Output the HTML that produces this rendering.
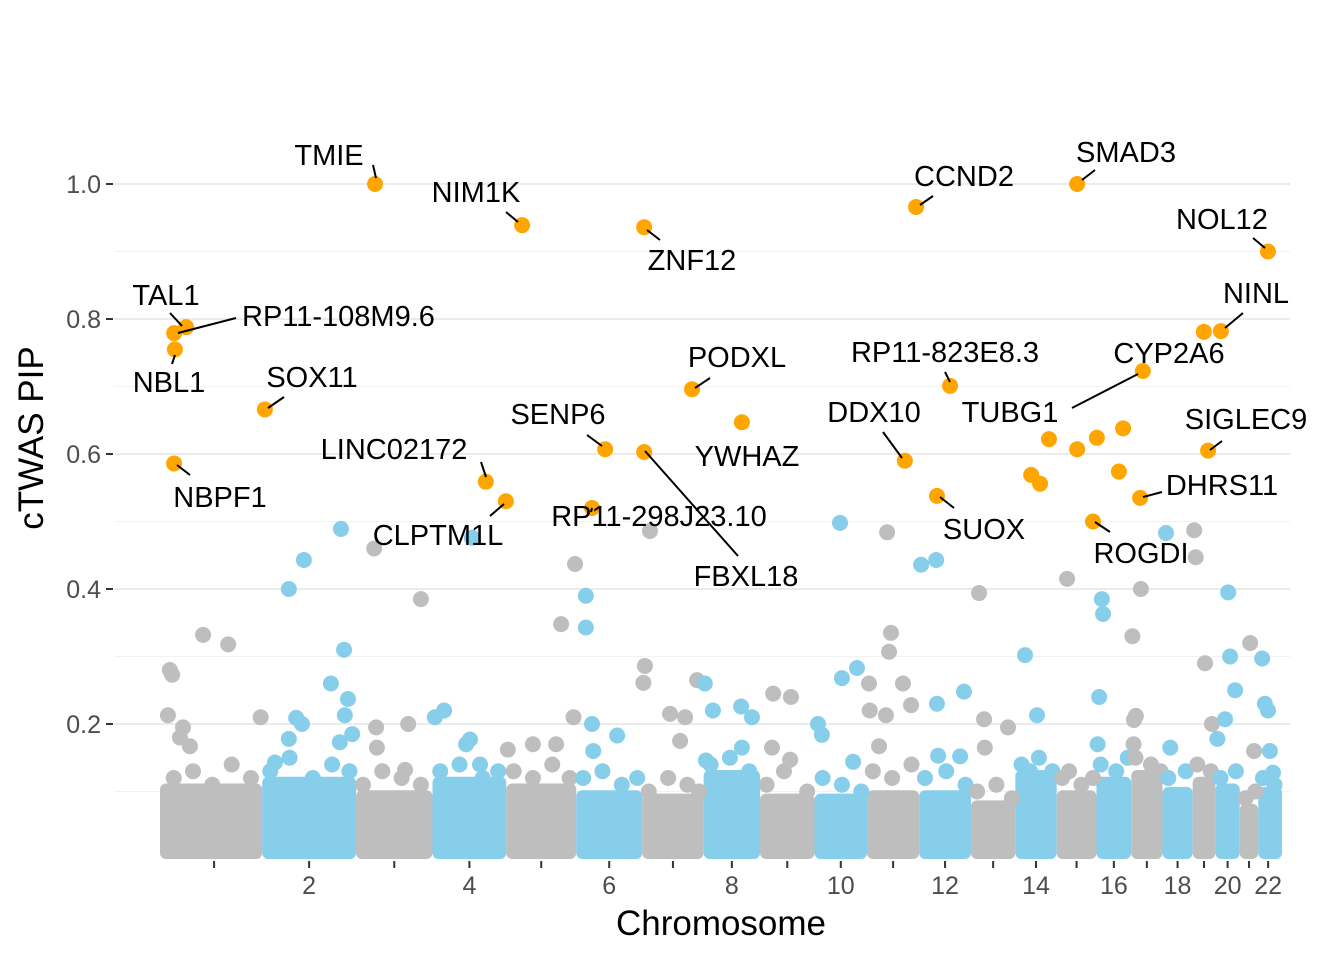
<!DOCTYPE html>
<html><head><meta charset="utf-8"><style>
html,body{margin:0;padding:0;background:#fff;}
svg{display:block;font-family:"Liberation Sans",Arial,sans-serif;}
</style></head><body>
<svg id="chart" width="1344" height="960" viewBox="0 0 1344 960" xmlns="http://www.w3.org/2000/svg">
<g id="grid"></g>
<g id="band"></g>
<g id="pts"></g>
<g id="hl"></g>
<g id="axes"></g>
<g id="labels"></g>
<text x="721" y="935" font-size="35" text-anchor="middle" fill="#000">Chromosome</text>
<text x="0" y="0" font-size="35" text-anchor="middle" fill="#000" transform="translate(43,438) rotate(-90)">cTWAS PIP</text>
</svg>
<script>
const chrLengths=[249,243,198,191,181,171,159,146,141,136,135,134,115,107,103,90,81,78,59,63,48,51];
const xTickLabels=["","2","","4","","6","","8","","10","","12","","14","","16","","18","","20","","22"];
const yTicks=[0.2,0.4,0.6,0.8,1.0];
const yTickLabels=["0.2","0.4","0.6","0.8","1.0"];
const yMinor=[0.1,0.3,0.5,0.7,0.9];
const bandTop=[0.1,0.11,0.09,0.11,0.1,0.09,0.085,0.12,0.085,0.085,0.09,0.09,0.075,0.12,0.09,0.11,0.12,0.095,0.11,0.1,0.07,0.095];
// background points [genome position (Mb cumulative), PIP]
const bgPoints=[
[10,.28],[16,.273],[5,.213],[96,.332],[161,.318],[44,.195],[62,.167],[36,.18],[245,.21],
[318,.40],[357,.443],[453,.489],[461,.31],[427,.26],[471,.237],[463,.213],[337,.209],[352,.2],[318,.178],[282,.143],[450,.173],[482,.185],
[539,.46],[660,.385],[544,.195],[627,.2],[619,.132],[546,.165],
[792,.476],[720,.22],[696,.21],[777,.17],[787,.177],[813,.14],
[1059,.437],[1023,.348],[1055,.21],[950,.17],[885,.162],[1010,.17],
[1087,.39],[1087,.343],[1103,.2],[1168,.183],[1106,.16],
[1253,.486],[1240,.286],[1236,.261],[1305,.215],[1344,.21],[1375,.265],[1331,.175],
[1395,.26],[1416,.22],[1489,.226],[1517,.21],[1491,.165],[1398,.146],
[1572,.245],[1618,.24],[1569,.165],[1616,.147],
[1745,.498],[1789,.283],[1750,.268],[1688,.2],[1698,.184],[1779,.144],
[1867,.484],[1877,.335],[1872,.307],[1908,.26],[1820,.26],[1822,.22],[1864,.213],[1929,.228],[1846,.167],
[1955,.436],[1994,.443],[2066,.248],[1996,.23],[1999,.153],[2056,.152],
[2105,.394],[2118,.207],[2180,.195],[2120,.165],
[2224,.302],[2255,.213],[2237,.13],
[2333,.415],[2338,.13],
[2423,.385],[2426,.363],[2416,.24],[2412,.17],
[2502,.33],[2524,.40],[2511,.212],[2506,.206],[2505,.17],
[2589,.483],[2600,.165],
[2662,.487],[2666,.447],[2690,.29],[2708,.2],
[2750,.395],[2755,.3],[2768,.25],[2742,.207],[2722,.178],
[2807,.32],[2817,.16],
[2838,.297],[2845,.23],[2853,.22],[2858,.16],[2866,.128]];
// fringe points just above the dense band [position, PIP]
const fringePoints=[
[20,.12],[70,.13],[120,.11],[170,.14],[220,.12],
[270,.13],[320,.15],[380,.12],[430,.14],[475,.13],
[510,.11],[560,.13],[610,.12],[660,.11],
[710,.13],[760,.14],[820,.12],[860,.13],
[900,.13],[950,.12],[1000,.14],[1045,.12],
[1080,.12],[1130,.13],[1180,.11],[1220,.12],
[1250,.1],[1300,.12],[1350,.11],[1380,.1],
[1410,.14],[1460,.15],[1510,.13],
[1555,.11],[1600,.13],[1660,.1],
[1700,.12],[1750,.11],[1800,.1],
[1830,.13],[1880,.12],[1930,.14],
[1965,.12],[2020,.13],[2070,.11],
[2100,.1],[2150,.11],[2190,.09],
[2215,.14],[2260,.15],[2295,.13],
[2320,.12],[2370,.11],[2400,.12],
[2420,.14],[2460,.13],[2490,.15],
[2510,.15],[2550,.14],[2575,.13],
[2595,.12],[2640,.13],
[2670,.14],[2705,.13],
[2730,.12],[2770,.13],
[2795,.09],[2820,.1],
[2840,.12],[2870,.11]];
// highlighted genes [position, PIP]
const hlPoints=[[541,1.0],[922,.939],[1238,.936],[1942,.966],[2359,1.0],[2853,.9],
[21,.779],[52,.788],[23,.755],[2731,.782],[2687,.781],[2529,.723],[2030,.701],[1362,.696],[256,.666],[1491,.647],
[1137,.607],[1238,.603],[1913,.59],[21,.586],[828,.559],[880,.53],[1103,.52],[1996,.538],
[2286,.622],[2359,.607],[2410,.624],[2478,.638],[2263,.556],[2240,.569],[2467,.574],[2698,.605],[2522,.535],[2400,.5]];
const labelItems=[
["TMIE",329,165,"middle",373,165,376,178],["NIM1K",476,202,"middle",506,212,518,222],["ZNF12",692,270,"middle",647,230,660,240],
["CCND2",964,186,"middle",933,196,920,205],["SMAD3",1126,162,"middle",1095,170,1082,180],["NOL12",1222,229,"middle",1253,238,1265,248],
["TAL1",166,305,"middle",170,313,182,326],["RP11-108M9.6",242,326,"start",236,318,178,333],["NBL1",169,392,"middle",172,364,175,355],
["NINL",1256,303,"middle",1243,313,1225,328],["CYP2A6",1169,363,"middle",1072,408,1138,374],["RP11-823E8.3",945,362,"middle",945,372,950,382],
["PODXL",737,367,"middle",710,378,695,388],["SOX11",312,387,"middle",284,397,268,408],["YWHAZ",747,466,"middle",0,0,0,0],
["SENP6",558,424,"middle",587,435,602,446],["FBXL18",746,586,"middle",738,556,645,451],["DDX10",874,422,"middle",883,432,902,458],
["NBPF1",220,507,"middle",190,475,177,465],["LINC02172",394,459,"middle",481,462,486,477],["CLPTM1L",438,545,"middle",490,516,504,504],
["RP11-298J23.10",659,526,"middle",591,512,592,508],["SUOX",984,539,"middle",954,508,940,497],["TUBG1",1010,422,"middle",0,0,0,0],
["SIGLEC9",1246,429,"middle",1222,441,1210,450],["DHRS11",1222,495,"middle",1162,492,1143,497],["ROGDI",1141,563,"middle",1110,532,1095,522]];

const NS="http://www.w3.org/2000/svg";
const total=chrLengths.reduce((a,b)=>a+b,0);
const X0=166,X1=1278;
const xs=p=>X0+p*(X1-X0)/total;
const ys=v=>859-v*675;
const starts=[];let acc=0;chrLengths.forEach(l=>{starts.push(acc);acc+=l;});
function mk(tag,attrs,parent){const e=document.createElementNS(NS,tag);for(const k in attrs)e.setAttribute(k,attrs[k]);parent.appendChild(e);return e;}
const grid=document.getElementById('grid');
yMinor.forEach(v=>{const l=mk('line',{x1:114,x2:1290,y1:ys(v),y2:ys(v),stroke:'#f2f2f2','stroke-width':1},grid);

});
yTicks.forEach(v=>{const l=mk('line',{x1:114,x2:1290,y1:ys(v),y2:ys(v),stroke:'#ebebeb','stroke-width':2},grid);

});
const axes=document.getElementById('axes');
yTicks.forEach((v,i)=>{const t=mk('line',{x1:106,x2:113,y1:ys(v),y2:ys(v),stroke:'#333','stroke-width':2},axes);


const tx=mk('text',{x:101,y:ys(v)+9,'font-size':25,'text-anchor':'end',fill:'#4d4d4d'},axes);tx.textContent=yTickLabels[i];

});
chrLengths.forEach((l,i)=>{const cx=xs(starts[i]+l/2);
const t=mk('line',{x1:cx,x2:cx,y1:861,y2:868,stroke:'#333','stroke-width':2},axes);


if(xTickLabels[i]){const tx=mk('text',{x:cx,y:894,'font-size':25,'text-anchor':'middle',fill:'#4d4d4d'},axes);tx.textContent=xTickLabels[i];

}});
const col=i=>i%2===0?'#bebebe':'#87ceeb';
const band=document.getElementById('band');
chrLengths.forEach((l,i)=>{const xa=xs(starts[i])-(i===0?6:0),xb=xs(starts[i]+l)+(i===chrLengths.length-1?4:0);const yt=ys(bandTop[i])-8;
const r=mk('rect',{x:xa,y:yt,width:xb-xa,height:859-yt,rx:6,fill:col(i)},band);

});
function chrOf(p){for(let i=chrLengths.length-1;i>=0;i--)if(p>=starts[i])return i;return 0;}
const pts=document.getElementById('pts');
fringePoints.forEach(d=>{const c=mk('circle',{cx:xs(d[0]),cy:ys(d[1]),r:8,fill:col(chrOf(d[0]))},pts);

});
bgPoints.forEach(d=>{const c=mk('circle',{cx:xs(d[0]),cy:ys(d[1]),r:8,fill:col(chrOf(d[0]))},pts);

});
const hl=document.getElementById('hl');
hlPoints.forEach(d=>{const c=mk('circle',{cx:xs(d[0]),cy:ys(d[1]),r:8,fill:'#ffa500'},hl);

});
const lab=document.getElementById('labels');
labelItems.forEach(d=>{if(d[4]){const l=mk('line',{x1:d[4],y1:d[5],x2:d[6],y2:d[7],stroke:'#000','stroke-width':2},lab);

}
const t=mk('text',{x:d[1],y:d[2],'font-size':29,'text-anchor':d[3],fill:'#000'},lab);t.textContent=d[0];

});
</script>
</body></html>
